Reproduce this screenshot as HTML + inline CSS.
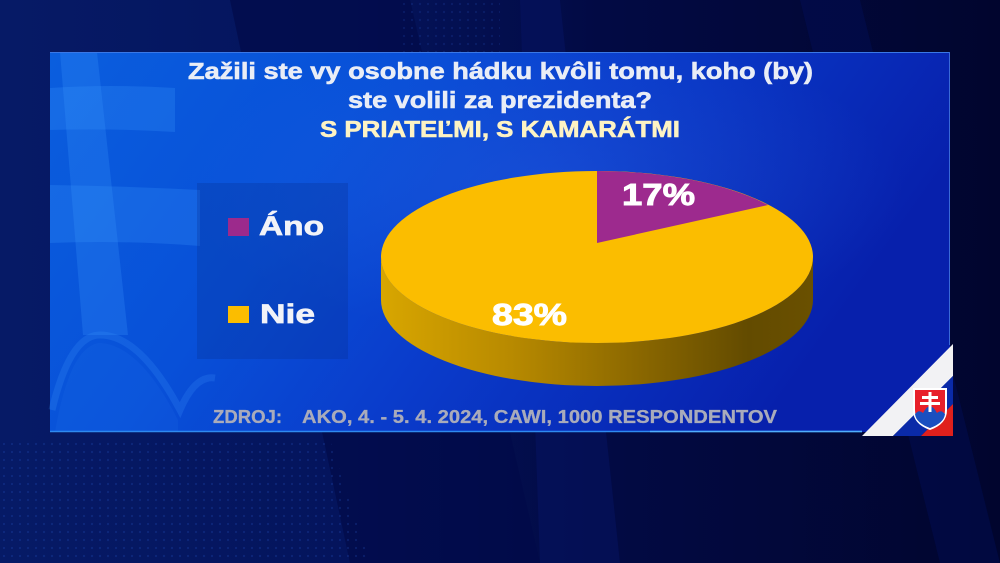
<!DOCTYPE html>
<html><head><meta charset="utf-8"><style>
html,body{margin:0;padding:0;background:#020a40;}
svg{display:block;}
</style></head><body>
<svg width="1000" height="563" viewBox="0 0 1000 563" xmlns="http://www.w3.org/2000/svg">
<defs>
<linearGradient id="bg" x1="0" y1="0" x2="1" y2="0">
<stop offset="0" stop-color="#061a66"/>
<stop offset="0.35" stop-color="#04145c"/>
<stop offset="0.6" stop-color="#020a44"/>
<stop offset="1" stop-color="#01052e"/>
</linearGradient>
<linearGradient id="panel" x1="0" y1="0" x2="1" y2="0.3">
<stop offset="0" stop-color="#0a5ede"/>
<stop offset="0.35" stop-color="#0850d8"/>
<stop offset="0.6" stop-color="#0a3ccb"/>
<stop offset="1" stop-color="#0720ac"/>
</linearGradient>
<radialGradient id="glow" cx="0.55" cy="0.35" r="0.4">
<stop offset="0" stop-color="#3a7af0" stop-opacity="0.25"/>
<stop offset="1" stop-color="#3a7af0" stop-opacity="0"/>
</radialGradient>
<linearGradient id="side" x1="381" y1="0" x2="813" y2="0" gradientUnits="userSpaceOnUse">
<stop offset="0" stop-color="#d8a600"/>
<stop offset="0.3" stop-color="#b88a00"/>
<stop offset="0.6" stop-color="#8a6700"/>
<stop offset="0.85" stop-color="#634b00"/>
<stop offset="1" stop-color="#6a5000"/>
</linearGradient>
<pattern id="dots" width="8" height="8" patternUnits="userSpaceOnUse">
<circle cx="4" cy="4" r="1.1" fill="#2a5ad0" fill-opacity="0.45"/>
</pattern>
</defs>

<!-- background -->
<rect width="1000" height="563" fill="url(#bg)"/>
<polygon points="230,0 410,0 540,563 350,563" fill="#020a48" opacity="0.7"/>
<polygon points="540,563 620,563 560,0 520,0" fill="#051464" opacity="0.5"/>
<polygon points="800,0 860,0 1000,563 940,563" fill="#041260" opacity="0.35"/>
<polygon points="0,440 330,440 370,563 0,563" fill="url(#dots)" opacity="0.5"/>
<polygon points="400,0 500,0 500,52 400,52" fill="url(#dots)" opacity="0.4"/>

<!-- panel -->
<rect x="50" y="52" width="900" height="380" fill="url(#panel)"/>
<rect x="50" y="52" width="900" height="380" fill="url(#glow)"/>
<!-- watermark double cross -->
<g fill="#3f9aff" fill-opacity="0.24">
<polygon points="60,52 97,52 128,335 83,335"/>
<path d="M50,88 Q110,84 175,88 L175,132 Q110,128 50,130 Z"/>
<path d="M50,185 Q125,186 200,190 L200,246 Q125,240 50,243 Z"/>
</g>
<path d="M52,410 Q70,335 100,335 Q140,335 180,410 Q195,375 215,378" fill="none" stroke="#3f9aff" stroke-opacity="0.2" stroke-width="7"/>
<path d="M55,432 Q70,345 100,343 Q140,345 178,420 L178,432 Z" fill="#3f9aff" fill-opacity="0.08"/>
<!-- panel borders -->
<line x1="50" y1="52.5" x2="950" y2="52.5" stroke="#3a78e6" stroke-width="1"/>
<line x1="949.5" y1="52" x2="949.5" y2="345" stroke="#3a6ad8" stroke-width="1"/>
<line x1="50" y1="431.5" x2="862" y2="431.5" stroke="#2f8af0" stroke-width="1.5"/>
<line x1="650" y1="431.5" x2="862" y2="431.5" stroke="#59b6ff" stroke-width="1.5" opacity="0.8"/>

<!-- flag corner -->
<polygon points="862,436 893,436 953,376 953,344" fill="#f2f2f4"/>
<polygon points="893,436 921,436 953,404 953,376" fill="#0a2aa8"/>
<polygon points="921,436 953,436 953,404" fill="#e0201c"/>
<!-- shield -->
<path d="M913,388 L947,388 L947,410 Q947,424 930,430 Q913,424 913,410 Z" fill="#ffffff"/>
<path d="M915,390 L945,390 L945,410 Q945,422 930,428 Q915,422 915,410 Z" fill="#e8202a"/>
<path d="M915,414 Q919,409 923,413 Q927,406 930,406 Q933,406 937,413 Q941,409 945,414 Q944,423 930,428 Q916,423 915,414 Z" fill="#1a4fc0"/>
<g fill="#ffffff">
<rect x="928.5" y="392" width="3" height="20"/>
<rect x="922" y="396" width="16" height="3"/>
<rect x="920" y="402" width="20" height="3"/>
</g>

<!-- title -->
<g font-family="'Liberation Sans', Arial, sans-serif" font-weight="bold" stroke-width="0.6">
<text x="188" y="79" font-size="23.5" fill="#e9edf6" stroke="#e9edf6" textLength="625" lengthAdjust="spacingAndGlyphs">Zažili ste vy osobne hádku kvôli tomu, koho (by)</text>
<text x="348" y="108" font-size="23.5" fill="#e9edf6" stroke="#e9edf6" textLength="304" lengthAdjust="spacingAndGlyphs">ste volili za prezidenta?</text>
<text x="320" y="137" font-size="23.5" fill="#fdf3c4" stroke="#fdf3c4" textLength="360" lengthAdjust="spacingAndGlyphs">S PRIATEĽMI, S KAMARÁTMI</text>
</g>

<!-- legend -->
<rect x="197" y="183" width="151" height="176" fill="#06308e" fill-opacity="0.28"/>
<rect x="228" y="218" width="21" height="18" fill="#9c2a8c"/>
<rect x="228" y="306" width="21" height="17" fill="#fbbd00"/>
<g font-family="'Liberation Sans', Arial, sans-serif" font-weight="bold" fill="#f2f3f8" stroke="#f2f3f8" stroke-width="0.7" font-size="27">
<text x="259" y="235" textLength="65" lengthAdjust="spacingAndGlyphs">Áno</text>
<text x="260" y="323" textLength="55" lengthAdjust="spacingAndGlyphs">Nie</text>
</g>

<!-- pie -->
<path d="M381,257 A216,86 0 0 0 813,257 L813,300 A216,86 0 0 1 381,300 Z" fill="url(#side)"/>
<ellipse cx="597" cy="257" rx="216" ry="86" fill="#fbbd00"/>
<path d="M597,243 L597,171 A216,86 0 0 1 768,205 Z" fill="#9d2a8e"/>
<g font-family="'Liberation Sans', Arial, sans-serif" font-weight="bold" fill="#ffffff" stroke="#ffffff" stroke-width="0.9" font-size="31">
<text x="622" y="205" textLength="73" lengthAdjust="spacingAndGlyphs">17%</text>
<text x="492" y="325" textLength="75" lengthAdjust="spacingAndGlyphs">83%</text>
</g>

<!-- source -->
<g font-family="'Liberation Sans', Arial, sans-serif" font-weight="bold" fill="#a9abbb" stroke="#a9abbb" stroke-width="0.3" font-size="18">
<text x="213" y="423" textLength="69" lengthAdjust="spacingAndGlyphs">ZDROJ:</text>
<text x="302" y="423" textLength="475" lengthAdjust="spacingAndGlyphs">AKO,  4. - 5. 4. 2024,  CAWI,  1000 RESPONDENTOV</text>
</g>
</svg>
</body></html>
